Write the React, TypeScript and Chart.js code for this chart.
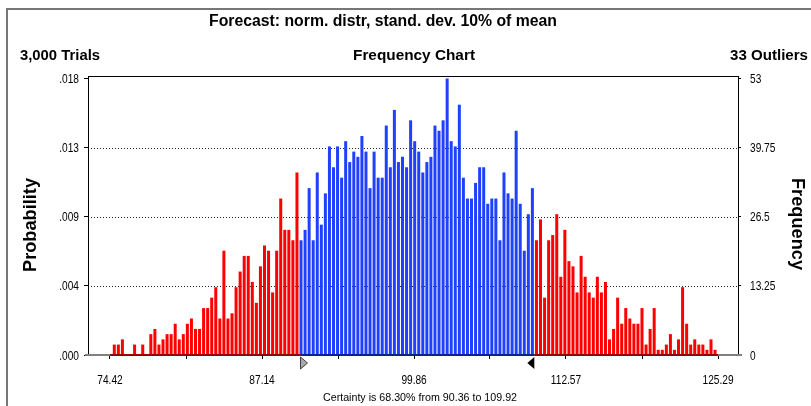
import React, { useEffect, useRef } from "react";
import { Chart, registerables } from "chart.js";

Chart.register(...registerables);

// Frequency counts per bin (3,000 trials, 33 outliers)
const FREQ = [
  2, 2, 3, 0, 0, 2, 0, 2, 0, 4, 5, 2, 3, 4, 4, 6, 3, 4, 6, 7, 5, 5, 9,
  9, 11, 13, 7, 20, 7, 8, 13, 16, 19, 19, 14, 10, 17, 21, 20, 12, 20, 30, 24, 24, 22, 35,
  22, 24, 32, 22, 35, 25, 31, 40, 36, 40, 34, 41, 37, 39, 38, 42, 39, 32, 39, 34, 34, 44, 36, 47, 37, 38, 36,
  45, 41, 39, 35, 37, 38, 44, 43, 45, 53, 41, 40, 48, 34, 30, 30, 33, 36, 36, 29, 30, 30, 22, 35, 31, 30,
  43, 29, 20, 27, 32, 22, 26, 11, 22, 23, 27, 15, 24, 18, 17, 12, 19, 15, 12, 11, 15, 12, 14, 3, 5, 11,
  6, 9, 7, 6, 6, 9, 2, 5, 9, 1, 1, 2, 4, 1, 3, 13, 6, 2, 3, 2, 2, 1, 3, 1,
];
const BIN_START = 74.78;
const BIN_WIDTH = 0.3396;
const CERT_LOW = 90.36;
const CERT_HIGH = 109.92;
const RANGE_LOW = 74.42;
const RANGE_HIGH = 125.29;

const X_TICKS = [74.42, 80.78, 87.14, 93.5, 99.86, 106.21, 112.57, 118.93, 125.29];
const X_TICK_LABELS = ["74.42", "", "87.14", "", "99.86", "", "112.57", "", "125.29"];
const Y_TICKS = [0, 13.25, 26.5, 39.75, 53];
const PROB_LABELS = [".000", ".004", ".009", ".013", ".018"];
const FREQ_LABELS = ["0", "13.25", "26.5", "39.75", "53"];

const TITLE = "Forecast: norm. distr, stand. dev. 10% of mean";
const TRIALS = "3,000 Trials";
const CHART_NAME = "Frequency Chart";
const OUTLIERS = "33 Outliers";
const LEFT_AXIS = "Probability";
const RIGHT_AXIS = "Frequency";
const CERTAINTY = "Certainty is 68.30% from 90.36 to 109.92";

const FONT = '"Liberation Sans", Arial, sans-serif';
const RED = "#ff0000";
const BLUE = "#2040ff";

// draw text condensed horizontally to a target width (narrow-font look)
function narrowText(
  ctx: CanvasRenderingContext2D,
  text: string,
  x: number,
  y: number,
  font: string,
  align: "left" | "center" | "right",
  width?: number,
  sx = 0.82
) {
  ctx.save();
  ctx.font = font;
  ctx.textBaseline = "middle";
  ctx.textAlign = align;
  const w = ctx.measureText(text).width;
  const s = width ? width / w : sx;
  ctx.translate(x, y);
  ctx.scale(s, 1);
  ctx.fillText(text, 0, 0);
  ctx.restore();
}

const decor = {
  id: "decor",
  beforeDatasetsDraw(chart: any) {
    const { ctx, chartArea } = chart;
    const y = chart.scales.y;
    ctx.save();
    ctx.strokeStyle = "#222";
    ctx.lineWidth = 1;
    ctx.setLineDash([1, 2]);
    [13.25, 26.5, 39.75].forEach((v) => {
      const py = Math.round(y.getPixelForValue(v)) + 0.5;
      ctx.beginPath();
      ctx.moveTo(chartArea.left, py);
      ctx.lineTo(chartArea.right, py);
      ctx.stroke();
    });
    ctx.restore();
  },
  afterDraw(chart: any) {
    const { ctx, chartArea } = chart;
    const x = chart.scales.x;
    const y = chart.scales.y;
    const { left, right, top, bottom } = chartArea;
    ctx.save();
    // outer frame
    ctx.fillStyle = "#777";
    ctx.fillRect(6, 8, 811, 2);
    ctx.fillRect(6, 8, 2, 406);
    // plot frame
    ctx.fillStyle = "#000";
    ctx.fillRect(left, top, right - left + 1, 1);
    ctx.fillRect(left, top, 1, bottom - top);
    ctx.fillRect(right, top, 1, bottom - top);
    // baseline
    ctx.fillStyle = "#808080";
    ctx.fillRect(left - 3, bottom - 1, right - left + 7, 2);
    const pL = x.getPixelForValue(RANGE_LOW);
    const pA = x.getPixelForValue(CERT_LOW);
    const pB = x.getPixelForValue(CERT_HIGH);
    const pH = x.getPixelForValue(RANGE_HIGH);
    ctx.fillStyle = "#990000";
    ctx.fillRect(pL, bottom - 1, pA - pL, 2);
    ctx.fillRect(pB, bottom - 1, pH - pB, 2);
    ctx.fillStyle = "#10208a";
    ctx.fillRect(pA, bottom - 1, pB - pA, 2);
    // certainty markers
    ctx.beginPath();
    ctx.moveTo(pA, bottom + 2);
    ctx.lineTo(pA, bottom + 14);
    ctx.lineTo(pA + 7, bottom + 8);
    ctx.closePath();
    ctx.fillStyle = "#a8a8a8";
    ctx.fill();
    ctx.strokeStyle = "#404040";
    ctx.lineWidth = 1;
    ctx.stroke();
    ctx.beginPath();
    ctx.moveTo(pB, bottom + 2);
    ctx.lineTo(pB, bottom + 14);
    ctx.lineTo(pB - 7, bottom + 8);
    ctx.closePath();
    ctx.fillStyle = "#000";
    ctx.fill();
    // tick labels
    ctx.fillStyle = "#000";
    const tf = `13px ${FONT}`;
    Y_TICKS.forEach((v, i) => {
      const py = y.getPixelForValue(v);
      narrowText(ctx, PROB_LABELS[i], left - 9, py + 1, tf, "right", undefined, 0.78);
      narrowText(ctx, FREQ_LABELS[i], right + 12, py + 1, tf, "left", undefined, 0.78);
    });
    X_TICKS.forEach((v, i) => {
      if (!X_TICK_LABELS[i]) return;
      narrowText(ctx, X_TICK_LABELS[i], x.getPixelForValue(v), 380, tf, "center", undefined, 0.78);
    });
    // texts
    narrowText(ctx, TITLE, 383, 22, `bold 16px ${FONT}`, "center", 348);
    narrowText(ctx, TRIALS, 20, 56, `bold 15px ${FONT}`, "left", 80);
    narrowText(ctx, CHART_NAME, 414, 56, `bold 15px ${FONT}`, "center", 122);
    narrowText(ctx, OUTLIERS, 808, 56, `bold 15px ${FONT}`, "right", 78);
    narrowText(ctx, CERTAINTY, 420, 398, `11px ${FONT}`, "center", 194);
    ctx.save();
    ctx.translate(31, 225);
    ctx.rotate(-Math.PI / 2);
    narrowText(ctx, LEFT_AXIS, 0, 0, `bold 19px ${FONT}`, "center", 94);
    ctx.restore();
    ctx.save();
    ctx.translate(797, 224);
    ctx.rotate(Math.PI / 2);
    narrowText(ctx, RIGHT_AXIS, 0, 0, `bold 19px ${FONT}`, "center", 92);
    ctx.restore();
    ctx.restore();
  },
};

export default function App() {
  const ref = useRef<HTMLCanvasElement>(null);
  useEffect(() => {
    if (!ref.current) return;
    const data = FREQ.map((f, i) => ({ x: BIN_START + i * BIN_WIDTH, y: f }));
    const colors = data.map((d) => (d.x >= CERT_LOW && d.x <= CERT_HIGH ? BLUE : RED));
    const chart = new Chart(ref.current, {
      type: "bar",
      data: {
        datasets: [
          {
            data: data as any,
            backgroundColor: colors,
            barPercentage: 0.74,
            categoryPercentage: 1,
            yAxisID: "y",
          },
        ],
      },
      options: {
        responsive: false,
        animation: false,
        layout: { padding: { left: 0, right: 0, top: 76, bottom: 0 } },
        plugins: { legend: { display: false }, tooltip: { enabled: false }, title: { display: false } },
        scales: {
          x: {
            type: "linear",
            min: 72.58,
            max: 126.96,
            offset: false,
            afterBuildTicks: (s: any) => {
              s.ticks = X_TICKS.map((v) => ({ value: v }));
            },
            afterFit: (s: any) => {
              s.height = 51;
            },
            ticks: { display: false },
            grid: { drawOnChartArea: false, offset: false, color: "#000", tickLength: 4 },
            border: { display: false },
          },
          y: {
            position: "left",
            min: 0,
            max: 53.5,
            afterBuildTicks: (s: any) => {
              s.ticks = Y_TICKS.map((v) => ({ value: v }));
            },
            afterFit: (s: any) => {
              s.width = 88;
            },
            ticks: { display: false },
            grid: { drawOnChartArea: false, color: "#000", tickLength: 4 },
            border: { display: false },
          },
          y2: {
            position: "right",
            min: 0,
            max: 53.5,
            afterBuildTicks: (s: any) => {
              s.ticks = Y_TICKS.map((v) => ({ value: v }));
            },
            afterFit: (s: any) => {
              s.width = 73;
            },
            ticks: { display: false },
            grid: { drawOnChartArea: false, color: "#000", tickLength: 3 },
            border: { display: false },
          },
        },
      },
      plugins: [decor],
    });
    return () => chart.destroy();
  }, []);
  return (
    <div style={{ position: "absolute", left: 0, top: 0, width: 811, height: 406, background: "#fff" }}>
      <canvas ref={ref} width={811} height={406} style={{ display: "block" }} />
    </div>
  );
}
